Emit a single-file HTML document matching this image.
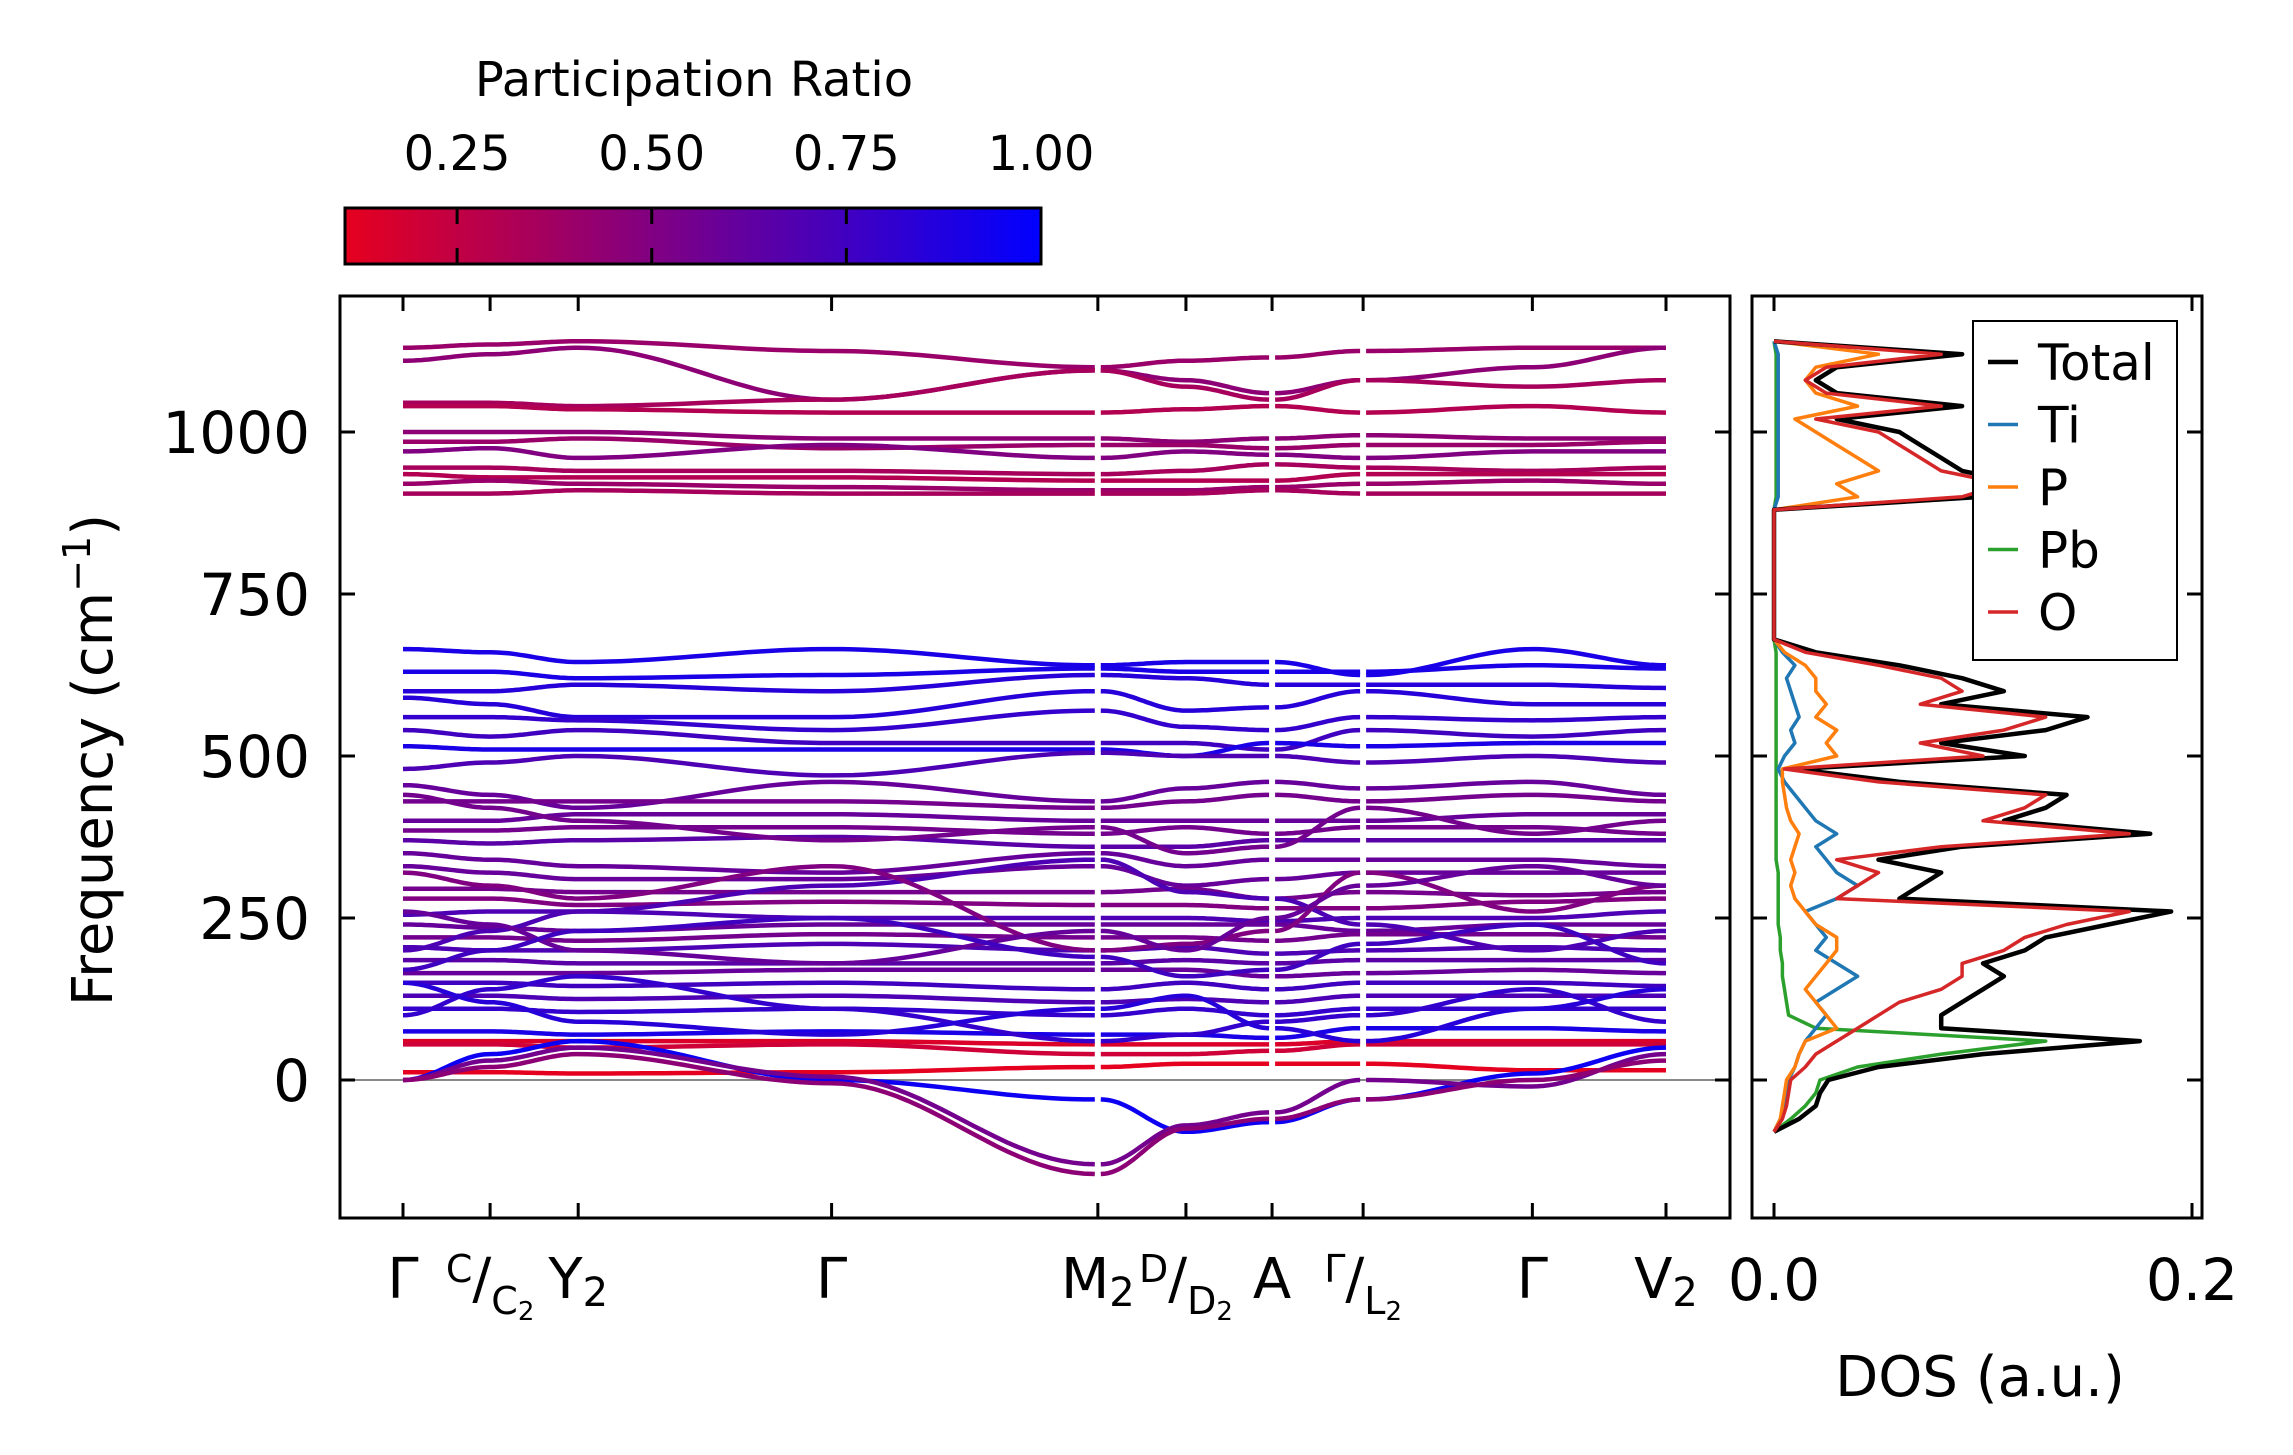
<!DOCTYPE html>
<html><head><meta charset="utf-8"><style>
html,body{margin:0;padding:0;background:#fff}
svg{display:block;font-family:"DejaVu Sans","Liberation Sans",sans-serif}
</style></head><body>
<svg id="fig" width="2293" height="1455" viewBox="0 0 2293 1455" xmlns="http://www.w3.org/2000/svg">
<defs>
<linearGradient id="cmap" x1="0" x2="1" y1="0" y2="0"><stop offset="0" stop-color="#e6001f"/><stop offset="1" stop-color="#0000ff"/></linearGradient>
<clipPath id="mainclip"><rect x="340" y="296" width="1390" height="922"/></clipPath>
<clipPath id="dosclip"><rect x="1752" y="296" width="450" height="922"/></clipPath>
</defs>
<g>
<text x="694" y="96" font-size="48" text-anchor="middle">Participation Ratio</text>
<rect x="345" y="208" width="696" height="56" fill="url(#cmap)" stroke="#000" stroke-width="3"/>
<g id="cbticks"></g>
</g>
<g id="main"></g>
<g id="dos"></g>
</svg>
<script>
const kDist = [0, 0.088, 0.177, 0.433, 0.702, 0.791, 0.878, 0.970, 1.141, 1.276];
const yTicks = [0, 250, 500, 750, 1000];
const cbTicks = [0.25, 0.50, 0.75, 1.00];
const bandPR = [0.4,0.45,0.35,0.3,0.45,0.4,0.5,0.35,0.3,0.4,0.35,0.9,0.9,0.85,0.85,0.8,0.75,0.9,0.7,0.6,0.55,0.6,0.55,0.65,0.6,0.6,0.55,0.5,0.7,0.6,0.55,0.7,0.65,0.6,0.75,0.7,0.8,0.9,0.15,0.2,0.1,0.95,0.55,0.45,0.8,0.7,0.5,0.85,0.6,0.55,0.75];
const bands = [
[1130,1135,1140,1125,1100,1110,1115,1125,1130,1130],
[1110,1120,1130,1050,1095,1080,1060,1080,1100,1130],
[1045,1045,1040,1050,1095,1070,1050,1080,1070,1080],
[1040,1040,1035,1030,1030,1035,1040,1030,1040,1030],
[1000,1000,1000,990,990,985,990,995,990,990],
[985,985,990,975,980,980,975,980,980,985],
[970,975,960,980,960,970,965,960,970,970],
[945,945,940,940,935,940,950,945,940,945],
[935,930,930,930,925,925,925,935,935,935],
[920,925,920,915,910,910,915,920,925,920],
[905,905,910,905,905,905,910,905,905,905],
[665,660,645,665,640,645,645,625,665,640],
[630,630,620,625,635,630,630,630,640,635],
[600,600,610,600,625,620,610,610,610,605],
[590,580,560,560,600,570,575,600,580,580],
[560,560,555,540,570,545,540,560,555,560],
[540,530,540,520,520,520,510,540,530,540],
[515,510,510,510,510,500,520,515,520,520],
[480,490,500,470,505,500,500,490,500,490],
[455,440,420,460,430,450,460,450,460,440],
[430,430,430,430,420,430,440,430,440,430],
[400,400,410,410,400,400,400,400,410,410],
[385,385,390,390,380,390,380,390,390,380],
[370,365,370,375,360,360,370,370,370,370],
[350,340,330,320,350,330,340,340,340,330],
[330,320,310,310,330,300,310,320,320,320],
[295,295,290,290,290,295,280,290,285,290],
[280,280,270,275,270,270,265,265,275,280],
[255,260,260,250,250,250,245,250,250,260],
[240,235,230,240,240,240,240,230,240,240],
[220,220,215,225,220,220,215,225,225,220],
[205,200,200,210,200,205,195,200,205,200],
[185,185,180,180,180,185,180,185,185,185],
[165,165,165,170,170,170,160,165,170,165],
[150,150,145,150,140,150,140,150,150,145],
[130,130,125,130,120,125,120,130,130,130],
[110,110,105,110,100,110,100,110,110,110],
[75,75,70,75,70,70,65,80,80,75],
[60,60,60,60,55,55,55,60,60,60],
[55,55,50,55,40,40,45,55,55,55],
[12,12,10,12,20,25,25,25,15,15],
[0,40,60,0,-30,-80,-65,-30,10,50],
[0,30,50,5,-130,-70,-50,0,-10,40],
[0,20,40,-5,-145,-75,-60,-30,0,30],
[100,140,160,110,60,70,90,100,140,90],
[200,230,260,300,340,290,280,240,200,230],
[320,300,280,330,200,210,230,320,260,300],
[150,120,90,70,110,130,80,60,110,140],
[260,240,200,180,230,200,250,300,330,300],
[440,420,400,370,390,350,360,420,380,400],
[170,200,230,250,190,160,170,210,240,180]
];
const dosFreq = [-80,-60,-40,-20,0,20,40,60,80,100,120,140,160,180,200,220,240,260,280,300,320,340,360,380,400,420,440,460,480,500,520,540,560,580,600,620,640,660,680,880,900,920,940,960,980,1000,1020,1040,1060,1080,1100,1120,1140];
const dosTotal = [0,0.012,0.02,0.022,0.026,0.05,0.1,0.175,0.08,0.08,0.09,0.1,0.11,0.1,0.12,0.13,0.16,0.19,0.06,0.07,0.08,0.05,0.09,0.18,0.11,0.13,0.14,0.06,0.01,0.12,0.08,0.13,0.15,0.08,0.11,0.09,0.06,0.02,0,0,0.1,0.12,0.09,0.08,0.07,0.06,0.03,0.09,0.03,0.02,0.03,0.09,0];
const dosTi = [0,0.003,0.005,0.006,0.007,0.01,0.012,0.015,0.02,0.025,0.02,0.03,0.04,0.03,0.02,0.025,0.02,0.015,0.03,0.04,0.03,0.025,0.02,0.03,0.02,0.015,0.01,0.005,0.002,0.005,0.01,0.008,0.012,0.01,0.008,0.006,0.01,0.004,0,0,0.002,0.002,0.002,0.002,0.002,0.002,0.002,0.002,0.002,0.002,0.002,0.002,0];
const dosP = [0,0.003,0.004,0.005,0.006,0.01,0.012,0.015,0.03,0.025,0.02,0.015,0.02,0.025,0.03,0.03,0.02,0.015,0.01,0.008,0.01,0.008,0.01,0.012,0.008,0.006,0.005,0.004,0.004,0.03,0.025,0.03,0.02,0.025,0.02,0.02,0.015,0.005,0,0,0.04,0.03,0.05,0.04,0.03,0.02,0.01,0.04,0.02,0.015,0.02,0.05,0];
const dosPb = [0,0.008,0.015,0.02,0.022,0.04,0.08,0.13,0.02,0.007,0.006,0.005,0.004,0.004,0.003,0.003,0.002,0.002,0.002,0.002,0.002,0.001,0.001,0.001,0.001,0.001,0.001,0.001,0.001,0.001,0.001,0.001,0.001,0.001,0.001,0.001,0.001,0.001,0,0,0.001,0.001,0.001,0.001,0.001,0.001,0.001,0.001,0.001,0.001,0.001,0.001,0];
const dosO = [0,0.004,0.006,0.007,0.008,0.015,0.02,0.03,0.04,0.05,0.06,0.08,0.09,0.09,0.11,0.12,0.14,0.17,0.03,0.04,0.05,0.03,0.08,0.17,0.1,0.12,0.13,0.05,0.005,0.1,0.07,0.11,0.13,0.07,0.09,0.08,0.05,0.015,0,0,0.09,0.11,0.08,0.07,0.06,0.05,0.02,0.08,0.025,0.015,0.025,0.08,0];
const legendNames = ["Total","Ti","P","Pb","O"];
const legendColors = ["#000000","#1f77b4","#ff7f0e","#2ca02c","#d62728"];

const NS="http://www.w3.org/2000/svg";
const fy = f => 1080 + f*(432-1080)/1000;
const kx = d => 403 + d*(1666-403)/kDist[kDist.length-1];
const dx = v => 1774 + v*(2192-1774)/0.2;
const cbx = v => 345 + (v-0.106)*(1041-345)/(1-0.106);
function mk(tag, attrs, parent){const e=document.createElementNS(NS,tag);for(const k in attrs)e.setAttribute(k,attrs[k]);parent.appendChild(e);return e;}
function prColor(p){const t=Math.max(0,Math.min(1,(p-0.106)/(1-0.106)));return `rgb(${Math.round(230*(1-t))},0,${Math.round(31+224*t)})`;}

const cbg=document.getElementById('cbticks');
cbTicks.forEach(v=>{
  const x=cbx(v);
  if(v<1){
    const a=mk('line',{x1:x,x2:x,y1:208,y2:224,stroke:'#000','stroke-width':3},cbg);
    
    
    const b=mk('line',{x1:x,x2:x,y1:248,y2:264,stroke:'#000','stroke-width':3},cbg);
    
    
  }
  const t=mk('text',{x:x,y:170,'font-size':48,'text-anchor':'middle'},cbg);
  t.textContent=v.toFixed(2);
  
  
});

const main=document.getElementById('main');
const zl=mk('line',{x1:340,x2:1730,y1:fy(0),y2:fy(0),stroke:'#888','stroke-width':2},main);


const bg=mk('g',{'clip-path':'url(#mainclip)'},main);


const breaks=[4,6,7];
bands.forEach((b,i)=>{
  let d='';
  for(let s=0;s<b.length-1;s++){
    let x0=kx(kDist[s]),x1=kx(kDist[s+1]);
    if(breaks.includes(s))x0+=3;
    if(breaks.includes(s+1))x1-=3;
    for(let j=0;j<=24;j++){
      const t=j/24, w=(1-Math.cos(Math.PI*t))/2;
      d+=(j===0&&(s===0||breaks.includes(s))?'M':'L')+(x0+(x1-x0)*t).toFixed(1)+' '+fy(b[s]+(b[s+1]-b[s])*w).toFixed(1)+' ';
    }
  }
  const p=mk('path',{d:d,fill:'none',stroke:prColor(bandPR[i]),'stroke-width':4.5},bg);
  
  
});
const frame=mk('rect',{x:340,y:296,width:1390,height:922,fill:'none',stroke:'#000','stroke-width':3},main);


yTicks.forEach(v=>{
  const y=fy(v);
  const a=mk('line',{x1:340,x2:355,y1:y,y2:y,stroke:'#000','stroke-width':3},main);
  
  
  const b=mk('line',{x1:1715,x2:1730,y1:y,y2:y,stroke:'#000','stroke-width':3},main);
  
  
  const t=mk('text',{x:310,y:y+21,'font-size':58,'text-anchor':'end'},main);
  t.textContent=v;
  
  
});
kDist.forEach(d=>{
  const x=kx(d);
  const a=mk('line',{x1:x,x2:x,y1:1218,y2:1203,stroke:'#000','stroke-width':3},main);
  
  
  const b=mk('line',{x1:x,x2:x,y1:296,y2:311,stroke:'#000','stroke-width':3},main);
  
  
});
const yl=mk('text',{x:0,y:0,'font-size':56,'text-anchor':'middle',transform:'translate(112,760) rotate(-90)'},main);
yl.innerHTML='Frequency (cm<tspan dy="-22" font-size="38">−1</tspan><tspan dy="22">)</tspan>';


const frac=(a,b)=>'<tspan font-size="38" dy="-16">'+a+'</tspan><tspan dy="16">/</tspan><tspan font-size="38" dy="16">'+b+'</tspan><tspan font-size="26" dy="6">2</tspan>';
const klab=['Γ',frac('C','C'),'Y<tspan font-size="40" dy="8">2</tspan>','Γ','M<tspan font-size="40" dy="8">2</tspan>',frac('D','D'),'A',frac('Γ','L'),'Γ','V<tspan font-size="40" dy="8">2</tspan>'];
klab.forEach((h,i)=>{
  const t=mk('text',{x:kx(kDist[i]),y:1298,'font-size':56,'text-anchor':'middle'},main);
  t.innerHTML=h;
  
  
});

const dos=document.getElementById('dos');
const dg=mk('g',{'clip-path':'url(#dosclip)'},dos);
const series=[dosPb,dosTi,dosP,dosTotal,dosO];
const sc=["#2ca02c","#1f77b4","#ff7f0e","#000000","#d62728"];
const sn=["dos-pb","dos-ti","dos-p","dos-total","dos-o"];
series.forEach((s,si)=>{
  let d='';
  s.forEach((v,j)=>{d+=(j?'L':'M')+dx(v).toFixed(1)+' '+fy(dosFreq[j]).toFixed(1)+' ';});
  const p=mk('path',{d:d,fill:'none',stroke:sc[si],'stroke-width':si===3?4.5:3.5,'stroke-linejoin':'round'},dg);
  
  
});
const df=mk('rect',{x:1752,y:296,width:450,height:922,fill:'none',stroke:'#000','stroke-width':3},dos);


yTicks.forEach(v=>{
  const y=fy(v);
  const a=mk('line',{x1:1752,x2:1767,y1:y,y2:y,stroke:'#000','stroke-width':3},dos);
  
  
  const b=mk('line',{x1:2187,x2:2202,y1:y,y2:y,stroke:'#000','stroke-width':3},dos);
  
  
});
[0,0.2].forEach(v=>{
  const x=dx(v);
  const a=mk('line',{x1:x,x2:x,y1:1218,y2:1203,stroke:'#000','stroke-width':3},dos);
  
  
  const b=mk('line',{x1:x,x2:x,y1:296,y2:311,stroke:'#000','stroke-width':3},dos);
  
  
  const t=mk('text',{x:x,y:1300,'font-size':58,'text-anchor':'middle'},dos);
  t.textContent=v.toFixed(1);
  
  
});
const dl=mk('text',{x:1980,y:1396,'font-size':56,'text-anchor':'middle'},dos);
dl.textContent='DOS (a.u.)';


const lg=mk('g',{},dos);


mk('rect',{x:1973,y:321,width:204,height:339,fill:'#fff',stroke:'#000','stroke-width':2},lg);
legendNames.forEach((n,i)=>{
  const y=362+i*62.5;
  const e=mk('g',{},lg);
  
  
  mk('line',{x1:1988,x2:2018,y1:y,y2:y,stroke:legendColors[i],'stroke-width':i===0?4.5:3.5},e);
  const t=mk('text',{x:2038,y:y+18,'font-size':50},e);
  t.textContent=n;
});
</script>
</body></html>
